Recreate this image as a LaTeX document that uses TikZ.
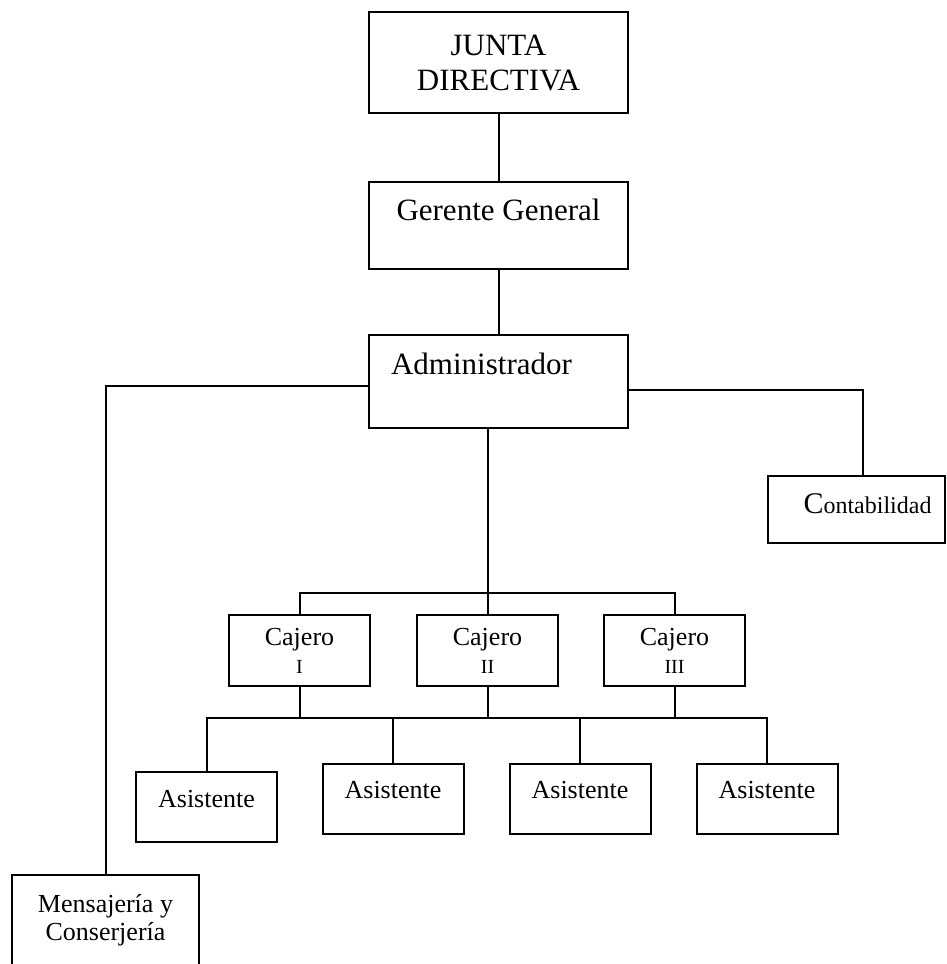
\documentclass[tikz,border=0pt]{standalone}
\usepackage{fontspec}
\setmainfont{Liberation Serif}
\usetikzlibrary{positioning}

\newcommand{\bigfont}{\fontsize{31}{35}\selectfont}
\newcommand{\midfont}{\fontsize{26}{28}\selectfont}
\newcommand{\numfont}{\fontsize{20}{25}\selectfont}

\tikzset{
  box/.style={draw, rectangle, line width=2pt, outer sep=0pt, inner sep=2pt, align=center},
  bigbox/.style={box, font=\bigfont, minimum width=259pt},
  cajbox/.style={box, font=\midfont, minimum width=141pt, minimum height=71pt},
  asisbox/.style={box, font=\midfont, minimum width=141pt, minimum height=70pt},
  link/.style={line width=2pt},
}

\begin{document}
\begin{tikzpicture}[x=1pt, y=-1pt]
  \useasboundingbox (0,0) rectangle (946,964);

  \node[bigbox, minimum height=101pt] (junta) at (498.5,62.5) {JUNTA\\DIRECTIVA};
  \node[bigbox, minimum height=87pt, below=69pt of junta] (gerente) {\raisebox{31pt}{Gerente General}};
  \node[bigbox, minimum height=93pt, below=66pt of gerente] (admin) {\raisebox{35pt}{Administrador\hspace*{34pt}}};
  \node[box, font=\fontsize{24}{24}\selectfont, minimum width=177pt, minimum height=67pt] (conta) at (856.5,509.5) {\raisebox{11pt}{\hspace*{22pt}{\fontsize{30}{30}\selectfont C}ontabilidad}};

  \node[cajbox] (caj2) at (487.5,650.5) {Cajero\\{\numfont II}};
  \node[cajbox, left=47pt of caj2] (caj1) {Cajero\\{\numfont I}};
  \node[cajbox, right=46pt of caj2] (caj3) {Cajero\\{\numfont III}};

  \node[asisbox] (asis1) at (206.5,807) {\raisebox{17pt}{Asistente}};
  \node[asisbox] (asis2) at (393,799) {\raisebox{18pt}{Asistente}};
  \node[asisbox, right=46pt of asis2] (asis3) {\raisebox{18pt}{Asistente}};
  \node[asisbox, right=46pt of asis3] (asis4) {\raisebox{18pt}{Asistente}};

  \node[box, font=\midfont, minimum width=187pt, minimum height=91pt] (mensa) at (105.5,920.5) {Mensajería y\\Conserjería};

  \coordinate (cbar) at (487.5,593);
  \coordinate (abar) at (487.5,718);

  \draw[link] (junta) -- (gerente);
  \draw[link] (gerente) -- (admin);
  \draw[link] ([yshift=-4pt]admin.west) -| (mensa.north);
  \draw[link] ([yshift=-8pt]admin.east) -| ([xshift=6pt]conta.north);
  \draw[link] (admin.south -| cbar) -- (cbar);
  \draw[link] (caj1.north) |- (cbar) -| (caj3.north);
  \draw[link] (cbar) -- (caj2.north);
  \foreach \c in {caj1,caj2,caj3}
    \draw[link] (\c.south) -- (\c.south |- abar);
  \draw[link] (asis1.north) |- (abar) -| (asis4.north);
  \foreach \a in {asis2,asis3}
    \draw[link] (\a.north) -- (\a.north |- abar);
\end{tikzpicture}
\end{document}
